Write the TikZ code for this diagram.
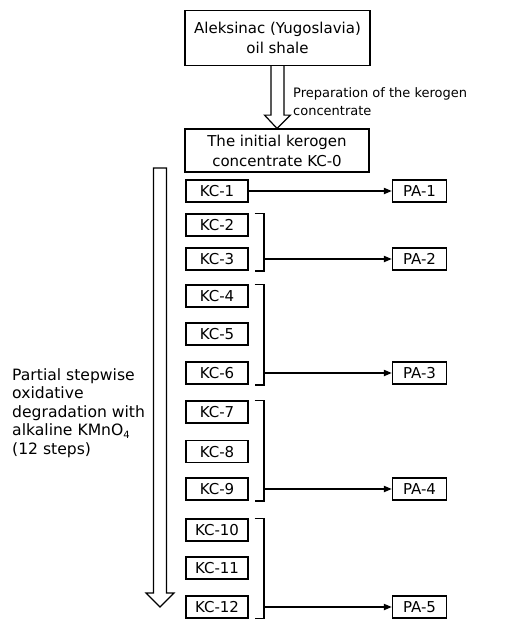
\documentclass[tikz,border=0pt]{standalone}
\usepackage{fontspec}
\setmainfont{DejaVu Sans}
\usetikzlibrary{arrows.meta,calc}
\begin{document}
\begin{tikzpicture}[x=1pt,y=-1pt,
  bigbox/.style={draw,line width=1.2pt,inner sep=0pt,align=center,font=\fontsize{15}{20}\selectfont},
  kcbox/.style={draw,line width=1.2pt,inner sep=0pt,minimum width=62pt,minimum height=22pt,text height=11pt,text depth=0pt,font=\fontsize{15}{18}\selectfont},
  pabox/.style={draw,line width=1.2pt,inner sep=0pt,minimum width=54pt,minimum height=22pt,text height=11pt,text depth=0pt,font=\fontsize{15}{18}\selectfont},
  conn/.style={line width=1.8pt,-{Triangle[length=8pt,width=6pt]}},
  brack/.style={line width=1.8pt},
  hollow/.style={draw,line width=1.2pt,fill=white,line join=miter},
  lbl/.style={align=left,inner sep=0pt}
]
\fill[white] (0,0) rectangle (515,619);
\useasboundingbox (0,0) rectangle (515,619);

% top boxes
\node[bigbox,minimum width=185pt,minimum height=55pt] (shale) at (277.5,38) {Aleksinac (Yugoslavia)\\oil shale};
\node[bigbox,minimum width=184pt,minimum height=43pt] (kc0) at (277,150.5) {The initial kerogen\\concentrate KC-0};

% hollow arrow between top boxes
\draw[hollow] ($(shale.south)+(-6.5,0)$) -- ($(shale.south)+(-6.5,49)$) -- ($(shale.south)+(-13,49)$)
  -- (kc0.north) -- ($(shale.south)+(13,49)$) -- ($(shale.south)+(6.5,49)$) -- ($(shale.south)+(6.5,0)$);

\node[lbl,anchor=west,font=\fontsize{13}{18}\selectfont] (prep) at (293,102) {Preparation of the kerogen\\concentrate};

% long hollow arrow
\draw[hollow] (153.5,168) -- (166.5,168) -- (166.5,593) -- (174,593) -- (160,607) -- (146,593) -- (153.5,593) -- cycle;

\node[lbl,anchor=west,font=\fontsize{15.6}{18.6}\selectfont] (txt) at (12,413)
  {Partial stepwise\\oxidative\\degradation with\\alkaline KMnO\raisebox{-0.35ex}{\fontsize{10}{10}\selectfont 4}\\(12 steps)};

% KC boxes
\foreach \i/\y in {1/191,2/225,3/259,4/296,5/334,6/373,7/412,8/451.5,9/489,10/530,11/568,12/607}{
  \node[kcbox] (kc\i) at (217,\y) {KC-\i};
}

% PA boxes
\node[pabox] (pa1) at (419.5,191) {PA-1};
\node[pabox] (pa2) at (419.5,259) {PA-2};
\node[pabox] (pa3) at (419.5,373) {PA-3};
\node[pabox] (pa4) at (419.5,489) {PA-4};
\node[pabox] (pa5) at (419.5,607) {PA-5};

% connectors
\draw[conn] (kc1.east) -- (pa1.west);
\foreach \a/\b/\p in {2/3/2,4/6/3,7/9/4,10/12/5}{
  \draw[brack] ($(kc\a.north east)+(6,0)$) -- ($(kc\a.north east)+(15,0)$) -- ($(kc\b.south east)+(15,0)$) -- ($(kc\b.south east)+(6,0)$);
  \draw[conn] ($(kc\b.east)+(15,0)$) -- (pa\p.west);
}
\end{tikzpicture}
\end{document}
